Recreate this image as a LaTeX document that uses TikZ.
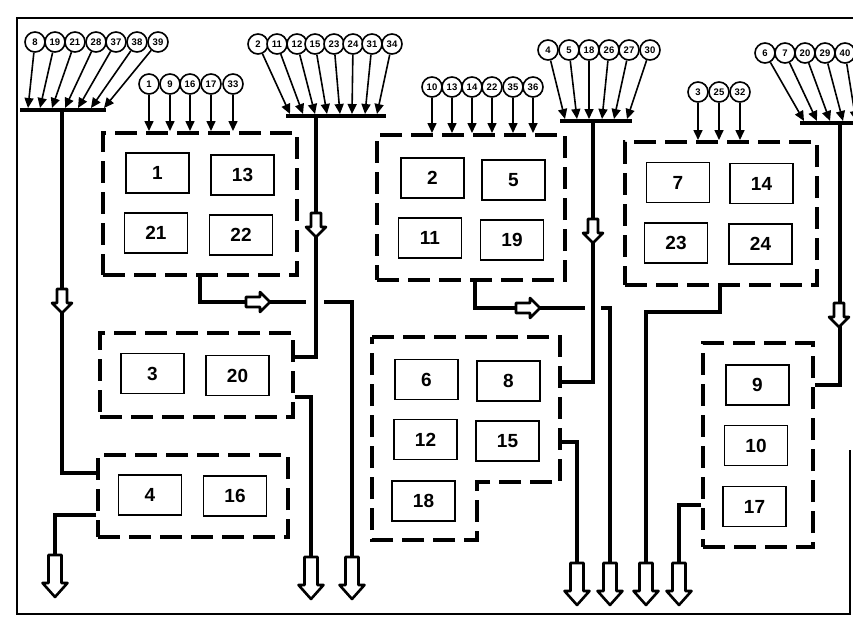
\documentclass[tikz,border=0pt]{standalone}
\usepackage{fontspec}
\setmainfont{Liberation Sans}
\usetikzlibrary{arrows.meta}
\tikzset{
  grp/.style={draw, line width=3.4pt, dash pattern=on 22pt off 9pt, inner sep=0pt},
  grpline/.style={line width=3.4pt, dash pattern=on 22pt off 9pt},
  ibox/.style={draw, line width=1.6pt, minimum width=63pt, minimum height=40pt, inner sep=0pt,
    font=\fontsize{19}{19}\selectfont\bfseries},
  circ/.style={draw, circle, line width=1.6pt, minimum size=20pt, inner sep=0pt, fill=white,
    font=\fontsize{9.5}{9.5}\selectfont\bfseries},
  inarrow/.style={line width=1.6pt, -{Triangle[width=9pt,length=10pt]}},
  wire/.style={line width=3.2pt},
  busbar/.style={line width=3.8pt},
  smalldown/.pic={\draw[fill=white, line width=2.6pt, line join=round]
    (-5,-12) -- (-5,2) -- (-10,2) -- (0,12) -- (10,2) -- (5,2) -- (5,-12) -- cycle;},
  smallright/.pic={\draw[fill=white, line width=2.6pt, line join=round]
    (-12,-5) -- (2,-5) -- (2,-10) -- (12,0) -- (2,10) -- (2,5) -- (-12,5) -- cycle;},
  bigdown/.pic={\draw[fill=white, line width=2.6pt, line join=round]
    (-6.5,0) -- (-6.5,28) -- (-12.5,28) -- (0,42) -- (12.5,28) -- (6.5,28) -- (6.5,0) -- cycle;}
}
\begin{document}
\begin{tikzpicture}[x=1pt,y=-1pt]
\useasboundingbox (0,0) rectangle (853,626);
% frame
\draw[line width=2.4pt] (850,450) -- (850,614) -- (17,614) -- (17,18) -- (860,18);

% dashed groups
\node[grp, minimum width=194pt, minimum height=142pt] (gA) at (200,204) {};
\node[grp, minimum width=188pt, minimum height=145pt] (gB) at (471,207.5) {};
\node[grp, minimum width=192pt, minimum height=143pt] (gF) at (721,213.5) {};
\node[grp, minimum width=193pt, minimum height=84pt] (gC) at (196.5,375) {};
\node[grp, minimum width=190pt, minimum height=82pt] (gD) at (193,496) {};
\node[grp, minimum width=110pt, minimum height=204pt] (gG) at (758,445) {};
\coordinate (Etl) at (372,337);
\coordinate (Etr) at (560,337);
\draw[grpline] (Etl) -- (Etr) -- (560,482) -- (477,482) -- (477,540) -- (372,540) -- cycle;

% inner boxes
\foreach \n/\x/\y in {1/157.5/173, 13/242.5/175, 21/156/233, 22/241/235,
  2/432.5/178, 5/513.5/180, 11/430/238, 19/512/240,
  7/678/182.5, 14/761.5/183.5, 23/676/243, 24/760.5/244,
  3/152.5/373.5, 20/237.5/375.5, 4/150/495, 16/235/496,
  6/426.5/379.5, 8/508.5/381, 12/425.5/439.5, 15/507.5/441, 18/423.5/501,
  9/757.5/385, 10/756/445.5, 17/754.5/506.5}
  {\node[ibox] (b\n) at (\x,\y) {\n};}

% bus A
\coordinate (busAl) at (20,110);
\coordinate (busAr) at (106,110);
\draw[busbar] (busAl) -- (busAr);
\foreach \n/\cx/\tx in {8/35/28, 19/55/40, 21/75/52, 28/96/65, 37/116/78, 38/137/91, 39/158/104}
  {\node[circ] (c\n) at (\cx,42) {\n};
   \coordinate (t\n) at (\tx,108);
   \draw[inarrow] (c\n) -- (t\n);}
% group A inputs
\foreach \n/\cx in {1/149, 9/170, 16/190, 17/211, 33/233}
  {\node[circ] (c\n) at (\cx,84) {\n};
   \coordinate (t\n) at (\cx,131);
   \draw[inarrow] (c\n) -- (t\n);}
% bus B
\coordinate (busBl) at (286,116);
\coordinate (busBr) at (386,116);
\draw[busbar] (busBl) -- (busBr);
\foreach \n/\cx/\tx in {2/258/290, 11/277/303, 12/297/315, 15/315/327, 23/334/340, 24/353/352, 31/372/365, 34/392/377}
  {\node[circ] (c\n) at (\cx,44) {\n};
   \coordinate (t\n) at (\tx,114);
   \draw[inarrow] (c\n) -- (t\n);}
% group B inputs
\foreach \n/\cx in {10/432, 13/452, 14/472, 22/492, 35/513, 36/533}
  {\node[circ] (c\n) at (\cx,87) {\n};
   \coordinate (t\n) at (\cx,133);
   \draw[inarrow] (c\n) -- (t\n);}
% bus C
\coordinate (busCl) at (560,121);
\coordinate (busCr) at (632,121);
\draw[busbar] (busCl) -- (busCr);
\foreach \n/\cx/\tx in {4/548/565, 5/569/577, 18/589/589, 26/609/602, 27/629/614, 30/650/627}
  {\node[circ] (c\n) at (\cx,50) {\n};
   \coordinate (t\n) at (\tx,119);
   \draw[inarrow] (c\n) -- (t\n);}
% group F inputs
\foreach \n/\cx in {3/698, 25/719, 32/740}
  {\node[circ] (c\n) at (\cx,92) {\n};
   \coordinate (t\n) at (\cx,140);
   \draw[inarrow] (c\n) -- (t\n);}
% bus D
\coordinate (busDl) at (800,123);
\coordinate (busDr) at (860,123);
\draw[busbar] (busDl) -- (busDr);
\foreach \n/\cx/\tx in {6/765/804, 7/785/817, 20/805/830, 29/825/843, 40/845/856}
  {\node[circ] (c\n) at (\cx,53) {\n};
   \coordinate (t\n) at (\tx,121);
   \draw[inarrow] (c\n) -- (t\n);}

% bus A down to group D
\coordinate (kA1) at (62,110);
\coordinate (kA2) at (62,473);
\draw[wire] (kA1) -- (kA2) -- (kA2 -| gD.west);
\pic at (62,301) {smalldown};
% group D out
\coordinate (kD1) at (55,515);
\coordinate (oD) at (55,555);
\draw[wire] (kD1 -| gD.west) -- (kD1) -- (oD);
\pic at (oD) {bigdown};

% bus B down to group C
\coordinate (kB1) at (316,116);
\coordinate (kB2) at (316,357);
\draw[wire] (kB1) -- (kB2) -- (kB2 -| gC.east);
\pic at (316,225) {smalldown};
% group C out
\coordinate (kC1) at (311,397);
\coordinate (oC) at (311,557);
\draw[wire] (kC1 -| gC.east) -- (kC1) -- (oC);
\pic at (oC) {bigdown};

% group A out (crossing bus B line)
\coordinate (kAo1) at (200,302);
\coordinate (kAo2) at (306,302);
\coordinate (kAo3) at (324,302);
\coordinate (kAo4) at (352,302);
\coordinate (oA) at (352,557);
\draw[wire] (kAo1 |- gA.south) -- (kAo1) -- (kAo2);
\draw[wire] (kAo3) -- (kAo4) -- (oA);
\pic at (258,302) {smallright};
\pic at (oA) {bigdown};

% bus C down to group E
\coordinate (kC3) at (593,121);
\coordinate (kE1) at (593,382);
\draw[wire] (kC3) -- (kE1) -- (kE1 -| Etr);
\pic at (593,231) {smalldown};
% group E out
\coordinate (kE2) at (577,442);
\coordinate (oE) at (577,563);
\draw[wire] (kE2 -| Etr) -- (kE2) -- (oE);
\pic at (oE) {bigdown};

% group B out (crossing bus C line)
\coordinate (kBo1) at (475,308);
\coordinate (kBo2) at (585,308);
\coordinate (kBo3) at (601,308);
\coordinate (kBo4) at (610,308);
\coordinate (oB) at (610,563);
\draw[wire] (kBo1 |- gB.south) -- (kBo1) -- (kBo2);
\draw[wire] (kBo3) -- (kBo4) -- (oB);
\pic at (528,308) {smallright};
\pic at (oB) {bigdown};

% group F out
\coordinate (kF1) at (720,312);
\coordinate (kF2) at (646,312);
\coordinate (oF) at (646,563);
\draw[wire] (kF1 |- gF.south) -- (kF1) -- (kF2) -- (oF);
\pic at (oF) {bigdown};

% bus D down to group G
\coordinate (kD3) at (840,123);
\coordinate (kG1) at (840,385);
\draw[wire] (kD3) -- (kG1) -- (kG1 -| gG.east);
\pic at (839,315) {smalldown};
% group G out
\coordinate (kG2) at (679,505);
\coordinate (oG) at (679,563);
\draw[wire] (kG2 -| gG.west) -- (kG2) -- (oG);
\pic at (oG) {bigdown};
\end{tikzpicture}
\end{document}
